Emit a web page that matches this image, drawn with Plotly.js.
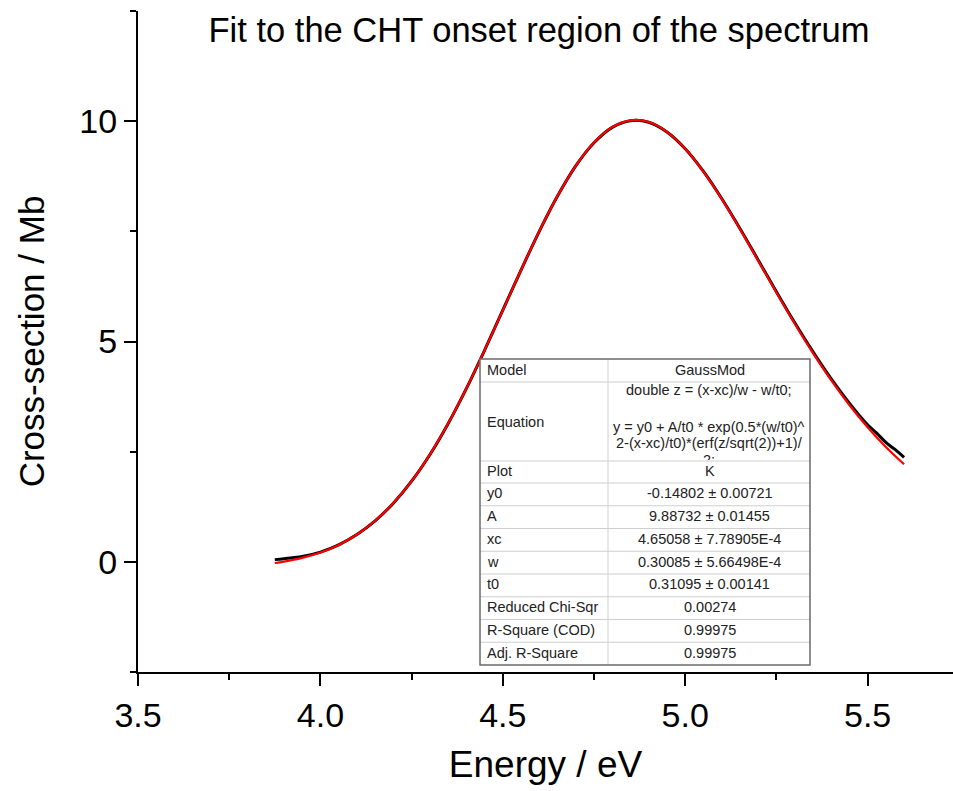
<!DOCTYPE html>
<html>
<head>
<meta charset="utf-8">
<script src="https://cdn.plot.ly/plotly-3.0.1.min.js"></script>
<style>html,body{margin:0;padding:0;background:#fff;}#chart{width:953px;height:791px;}</style>
</head>
<body>
<div id="chart"></div>
<script>
// Measured spectrum (black)
const energy = [3.875,3.90,3.95,4.00,4.05,4.10,4.15,4.20,4.25,4.30,4.35,4.40,4.45,4.50,4.55,4.60,4.65,4.70,4.75,4.80,4.85,4.90,4.95,5.00,5.05,5.10,5.15,5.20,5.25,5.30,5.35,5.40,5.45,5.50,5.525,5.55,5.575,5.60];
const crossSection = [0.05,0.07,0.12,0.22,0.385,0.62,0.93,1.33,1.83,2.43,3.135,3.93,4.80,5.71,6.62,7.50,8.30,8.985,9.51,9.86,10.01,9.975,9.755,9.375,8.86,8.245,7.565,6.85,6.13,5.43,4.77,4.155,3.60,3.11,2.92,2.71,2.55,2.37];
// GaussMod fit (red)
const fitEnergy = [3.875,3.90,3.95,4.00,4.05,4.10,4.15,4.20,4.25,4.30,4.35,4.40,4.45,4.50,4.55,4.60,4.65,4.70,4.75,4.80,4.85,4.90,4.95,5.00,5.05,5.10,5.15,5.20,5.25,5.30,5.35,5.40,5.45,5.50,5.55,5.60];
const fitValues = [-0.027,0.004,0.089,0.212,0.384,0.620,0.932,1.333,1.832,2.434,3.138,3.932,4.798,5.707,6.622,7.503,8.304,8.988,9.516,9.865,10.020,9.982,9.758,9.374,8.855,8.236,7.552,6.834,6.111,5.408,4.740,4.121,3.558,3.053,2.607,2.215];

// Fit report table
const tableLabels = ["Model","Equation","Plot","y0","A","xc","w","t0","Reduced Chi-Sqr","R-Square (COD)","Adj. R-Square"];
const tableValues = ["GaussMod","","K","-0.14802 ± 0.00721","9.88732 ± 0.01455","4.65058 ± 7.78905E-4","0.30085 ± 5.66498E-4","0.31095 ± 0.00141","0.00274","0.99975","0.99975"];
const equationLines = ["double z = (x-xc)/w - w/t0;","y = y0 + A/t0 * exp(0.5*(w/t0)^","2-(x-xc)/t0)*(erf(z/sqrt(2))+1)/","2;"];

const FONT = "Liberation Sans, Arial, sans-serif";
const L = 138, T = 11, PW = 815, PH = 661;
const px = v => (v - L) / PW;
const py = v => (T + PH - v) / PH;

// table geometry (pixels)
const tx0 = 480, tx1 = 810, tcol = 608;
const rowLines = [359, 382, 461, 483];
for (let i = 1; i <= 8; i++) rowLines.push(483 + i * 22.75);

const shapes = [];
shapes.push({type:'rect', xref:'paper', yref:'paper', x0:px(tx0), x1:px(tx1), y0:py(rowLines[0]), y1:py(rowLines[rowLines.length-1]), fillcolor:'#ffffff', line:{width:0}, layer:'above'});
for (let i = 1; i < rowLines.length - 1; i++) {
  shapes.push({type:'line', xref:'paper', yref:'paper', x0:px(tx0), x1:px(tx1), y0:py(rowLines[i]), y1:py(rowLines[i]), line:{color:'#cfcfcf', width:1}, layer:'above'});
}
shapes.push({type:'line', xref:'paper', yref:'paper', x0:px(tcol), x1:px(tcol), y0:py(rowLines[0]), y1:py(rowLines[rowLines.length-1]), line:{color:'#cfcfcf', width:1}, layer:'above'});
shapes.push({type:'rect', xref:'paper', yref:'paper', x0:px(tx0), x1:px(tx1), y0:py(rowLines[0]), y1:py(rowLines[rowLines.length-1]), line:{color:'#6a6a6a', width:1.5}, layer:'above'});

const annotations = [];
const tf = {family: FONT, size: 14.5, color: '#222222'};
const rowCenters = [];
for (let i = 0; i < rowLines.length - 1; i++) rowCenters.push((rowLines[i] + rowLines[i+1]) / 2 - 1);
rowCenters[1] = 422;
rowCenters[2] = 471;
tableLabels.forEach((lab, i) => {
  annotations.push({xref:'paper', yref:'paper', x:px(tx0 + 5), y:py(rowCenters[i]), xanchor:'left', yanchor:'middle', text:lab, showarrow:false, font:tf});
});
const eqY = [390, 427, 443];
equationLines.forEach((t, i) => {
  const a = {xref:'paper', yref:'paper', x:px((tcol + tx1) / 2), y:py(eqY[i] || 0), xanchor:'center', yanchor:'middle', text:t, showarrow:false, font:tf};
  if (i === 3) {
    // last line is cut off by the row border, as in the original report
    a.y = py(460.5); a.yanchor = 'bottom'; a.height = 8; a.width = 40; a.valign = 'top'; a.borderpad = 0;
  }
  annotations.push(a);
});
tableValues.forEach((v, i) => {
  if (!v) return;
  annotations.push({xref:'paper', yref:'paper', x:px((tcol + tx1) / 2 + 0.5), y:py(rowCenters[i]), xanchor:'center', yanchor:'middle', text:v, showarrow:false, font:tf});
});

const traces = [
  {x: energy, y: crossSection, type:'scatter', mode:'lines', line:{color:'#000000', width:3, shape:'spline'}, hoverinfo:'skip'},
  {x: fitEnergy, y: fitValues, type:'scatter', mode:'lines', line:{color:'#ff0000', width:2.2, shape:'spline'}, hoverinfo:'skip'}
];

const layout = {
  width: 953, height: 791,
  margin: {l: L, r: 0, t: T, b: 791 - T - PH, pad: 0},
  paper_bgcolor: '#ffffff', plot_bgcolor: '#ffffff',
  showlegend: false,
  font: {family: FONT, color: '#000000'},
  title: {text: 'Fit to the CHT onset region of the spectrum', font: {family: FONT, size: 34.5, color: '#000'}, xref: 'container', x: 539 / 953, xanchor: 'center', yref: 'container', y: 1 - 30 / 791, yanchor: 'middle'},
  xaxis: {
    range: [3.5, 3.5 + 815 / 364.8], showgrid: false, zeroline: false,
    showline: true, linecolor: '#000', linewidth: 2,
    ticks: 'outside', ticklen: 12, tickwidth: 2, tickcolor: '#000',
    tick0: 3.5, dtick: 0.5, tickformat: '.1f',
    minor: {ticks: 'outside', ticklen: 6, tickwidth: 2, tickcolor: '#000', dtick: 0.25, tick0: 3.5, showgrid: false},
    tickfont: {family: FONT, size: 34, color: '#000'}, ticklabelstandoff: 0,
    title: {text: 'Energy / eV', font: {family: FONT, size: 37, color: '#000'}, standoff: 18}
  },
  yaxis: {
    range: [-2.5, 12.5], showgrid: false, zeroline: false,
    showline: true, linecolor: '#000', linewidth: 2,
    ticks: 'outside', ticklen: 12, tickwidth: 2, tickcolor: '#000',
    tick0: 0, dtick: 5,
    minor: {ticks: 'outside', ticklen: 6, tickwidth: 2, tickcolor: '#000', dtick: 2.5, tick0: 0, showgrid: false},
    tickfont: {family: FONT, size: 34, color: '#000'}, ticklabelstandoff: 0,
    title: {text: 'Cross-section / Mb', font: {family: FONT, size: 35, color: '#000'}, standoff: 24}
  },
  shapes: shapes,
  annotations: annotations
};

Plotly.newPlot('chart', traces, layout, {displayModeBar: false, staticPlot: true});
</script>
</body>
</html>
